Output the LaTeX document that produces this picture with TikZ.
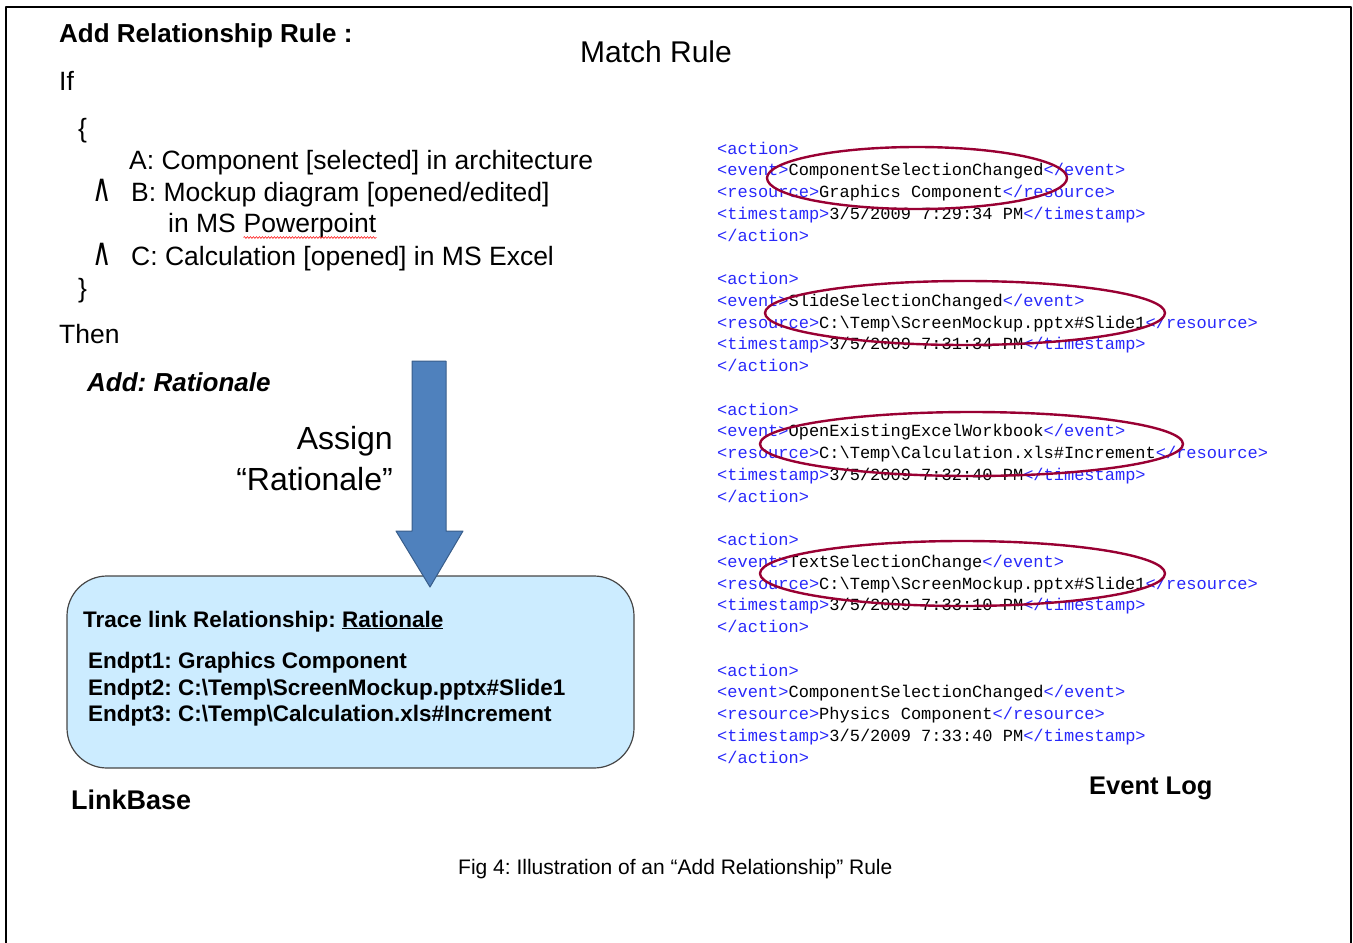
\documentclass[tikz,border=0pt]{standalone}
\usepackage{fontspec}
\setmainfont{Liberation Sans}
\setmonofont{Liberation Mono}
\newfontfamily\symfont{DejaVu Sans}
\usetikzlibrary{decorations.pathmorphing}

\definecolor{tagblue}{RGB}{40,40,250}
\definecolor{ringred}{RGB}{153,0,51}
\definecolor{arrowblue}{RGB}{79,129,189}
\definecolor{arrowedge}{RGB}{56,93,138}
\definecolor{linkfill}{RGB}{204,236,255}
\definecolor{linkedge}{RGB}{70,70,70}

\newcommand{\tg}[1]{\textcolor{tagblue}{#1}}
\newcommand{\bs}{\textbackslash}
\newcommand{\wedgesym}{{\symfont\fontsize{22}{26}\selectfont\scalebox{1.2}[1.75]{∧}}}

\tikzset{
  txt/.style={inner sep=0pt, anchor=base west, font=\fontsize{26.5}{31}\selectfont},
  hdr/.style={txt, font=\fontsize{26}{31}\selectfont\bfseries},
  endpt/.style={txt, font=\fontsize{22.5}{27}\selectfont\bfseries},
  xml/.style={inner sep=0pt, anchor=base west, font=\fontsize{17}{20}\selectfont\ttfamily},
  ring/.style={draw=ringred, line width=2.4pt},
  spell/.style={draw=red, line width=0.5pt, decorate,
    decoration={snake, amplitude=1pt, segment length=3pt}},
}

\begin{document}
\frenchspacing
\begin{tikzpicture}[x=1pt,y=-1pt,line join=round]
\useasboundingbox (0,0) rectangle (1353,943);
% frame, open at the bottom
\draw[line width=2pt] (6,943) -- (6,7) -- (1351,7) -- (1351,943);

% the rule
\node[hdr] (title) at (59,42) {Add Relationship Rule :};
\node[txt, font=\fontsize{30}{36}\selectfont, anchor=base] (match) at (656,62) {Match Rule};
\node[txt] (if) at (59,90) {If};
\node[txt] (lbr) at (78,137) {\{};
\node[txt] (ca) at (129,169) {A: Component [selected] in architecture};
\node[txt] (andb) at (92,201) {\wedgesym};
\node[txt] (cb) at (131,201) {B: Mockup diagram [opened/edited]};
\node[txt] (inms) at (168,232) {in MS};
\node[txt] (ppt) at ([xshift=7.4pt]inms.base east) {Powerpoint};
\draw[spell] ([yshift=-5.5pt]ppt.base west) -- ([yshift=-5.5pt]ppt.base east);
\node[txt] (andc) at (92,265) {\wedgesym};
\node[txt] (cc) at (131,265) {C: Calculation [opened] in MS Excel};
\node[txt] (rbr) at (78,297) {\}};
\node[txt] (then) at (59,343) {Then};
\node[txt, font=\fontsize{26}{31}\selectfont\bfseries\itshape] (add) at (87,391) {Add: Rationale};
\node[txt, anchor=base east, font=\fontsize{32}{38}\selectfont] (assign) at (393,449) {Assign};
\node[txt, anchor=base east, font=\fontsize{32}{38}\selectfont] (ratio) at (393,490) {“Rationale”};

% linkbase
\node[draw=linkedge, fill=linkfill, line width=1.2pt, rounded corners=40pt,
  minimum width=567pt, minimum height=192pt] (linkbase) at (350.5,672) {};
\fill[arrowblue, draw=arrowedge, line width=1pt] (412,361) -- (446,361) -- (446,531)
  -- (463,531) -- (430,587) -- (396,531) -- (412,531) -- cycle;
\node[endpt] (trace) at (83,627) {Trace link Relationship: \underline{Rationale}};
\node[endpt] (ep1) at (88,668) {Endpt1: Graphics Component};
\node[endpt] (ep2) at (88,695) {Endpt2: C:\bs Temp\bs ScreenMockup.pptx\#Slide1};
\node[endpt] (ep3) at (88,721) {Endpt3: C:\bs Temp\bs Calculation.xls\#Increment};
\node[hdr, font=\fontsize{27}{32}\selectfont\bfseries] (lbase) at (71,809) {LinkBase};

% event log
\foreach \ev/\res/\ts [count=\i from 0] in {
  ComponentSelectionChanged/Graphics Component/7:29:34,
  SlideSelectionChanged/C:\bs Temp\bs ScreenMockup.pptx\#Slide1/7:31:34,
  OpenExistingExcelWorkbook/C:\bs Temp\bs Calculation.xls\#Increment/7:32:40,
  TextSelectionChange/C:\bs Temp\bs ScreenMockup.pptx\#Slide1/7:33:10,
  ComponentSelectionChanged/Physics Component/7:33:40}
{
  \pgfmathsetmacro\yb{154+130.5*\i}
  \node[xml] (act\i) at (717,\yb) {\tg{<action>}};
  \node[xml] (ev\i) at (717,{\yb+21.75}) {\tg{<event>}\ev\tg{</event>}};
  \node[xml] (res\i) at (717,{\yb+43.5}) {\tg{<resource>}\res\tg{</resource>}};
  \node[xml] (ts\i) at (717,{\yb+65.25}) {\tg{<timestamp>}3/5/2009 \ts{} PM\tg{</timestamp>}};
  \node[xml] (end\i) at (717,{\yb+87}) {\tg{</action>}};
}
\draw[ring] (917,178) ellipse [x radius=150pt, y radius=31pt];
\draw[ring] (965,313) ellipse [x radius=200pt, y radius=32pt];
\draw[ring] (971.5,444) ellipse [x radius=211.5pt, y radius=32pt];
\draw[ring] (962.5,573.5) ellipse [x radius=202.5pt, y radius=32.5pt];
\node[hdr, font=\fontsize{25.5}{30}\selectfont\bfseries] (elog) at (1089,794) {Event Log};

\node[txt, font=\fontsize{21}{25}\selectfont] (caption) at (458,874)
  {Fig 4: Illustration of an “Add Relationship” Rule};
\end{tikzpicture}
\end{document}
